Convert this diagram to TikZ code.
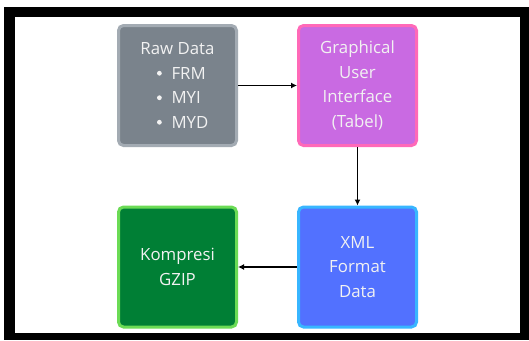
\documentclass[tikz,border=0pt]{standalone}
\usepackage{fontspec}
\setmainfont{Open Sans}
\usetikzlibrary{arrows.meta}
\definecolor{txt}{HTML}{F2F2F2}
\definecolor{rawfill}{HTML}{7A838C}
\definecolor{rawline}{HTML}{A3ABB3}
\definecolor{guifill}{HTML}{C96AE2}
\definecolor{guiline}{HTML}{FF69B8}
\definecolor{xmlfill}{HTML}{5271FF}
\definecolor{xmlline}{HTML}{38B6FF}
\definecolor{gzfill}{HTML}{007F35}
\definecolor{gzline}{HTML}{6BDB55}
\newcommand{\mybul}{\raisebox{3.6pt}{\tikz\fill[txt] (0,0) circle (2.4pt);}\hspace{9.7pt}}
\newcommand{\myitem}[1]{\hspace*{8pt}\makebox[49pt][l]{\mybul #1}}
\tikzset{
  box/.style={rounded corners=5pt, line width=3pt, minimum width=118pt, minimum height=120pt,
    text=txt, align=center, font=\fontsize{16.8}{24.5}\selectfont, inner sep=0pt},
  conn/.style={line width=1.8pt, -{Latex[length=6pt,width=6pt]}}
}
\begin{document}
\begin{tikzpicture}[x=1pt,y=-1pt]
\useasboundingbox (0,0) rectangle (529,340);
\fill[white] (0,0) rectangle (529,340);
\fill[black] (4,7) rectangle (529,340);
\fill[white] (15,17) rectangle (520,333);
\node[box, draw=rawline, fill=rawfill] (raw) at (177.5,85.5)
  {Raw Data\\\myitem{FRM}\\\myitem{MYI}\\\myitem{MYD}};
\node[box, draw=guiline, fill=guifill] (gui) at (357.5,85.5)
  {Graphical\\User\\Interface\\(Tabel)};
\node[box, draw=xmlline, fill=xmlfill] (xml) at (357.5,267)
  {XML\\Format\\Data};
\node[box, draw=gzline, fill=gzfill] (gz) at (177.5,267)
  {Kompresi\\GZIP};
\draw[conn] (raw.east) -- (gui.west);
\draw[conn] (gui.south) -- (xml.north);
\draw[conn] (xml.west) -- (gz.east);
\end{tikzpicture}
\end{document}
